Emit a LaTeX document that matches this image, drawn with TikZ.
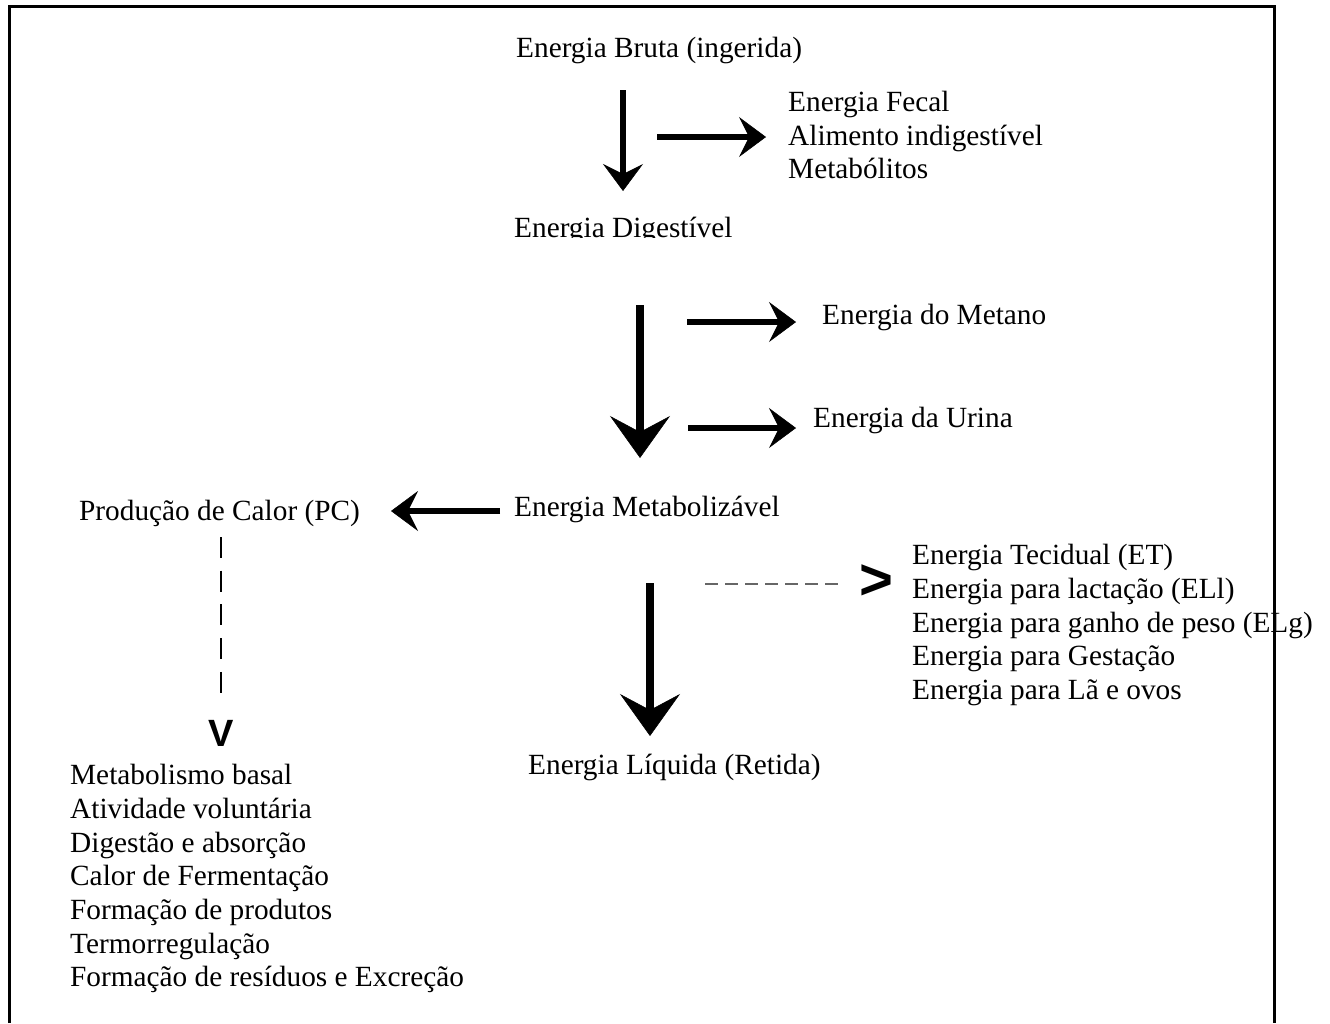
\documentclass[tikz,border=0pt]{standalone}
\usepackage{fontspec}
\setmainfont{Liberation Serif}
\newfontfamily\arialfam{Liberation Sans}
\usetikzlibrary{arrows.meta}
\begin{document}
\begin{tikzpicture}[x=1pt,y=-1pt,
  lbl/.style={anchor=base west, inner sep=0pt, font=\fontsize{29.3}{34}\selectfont},
  smallarrow/.style={line width=6pt, -{Stealth[length=27pt,width=40pt,inset=10pt,line width=0.5pt]}},
  bigarrow/.style={line width=8pt, -{Stealth[length=42pt,width=60pt,inset=16pt,line width=0.5pt]}},
  frameline/.style={line width=3pt},
  vdash/.style={line width=2.5pt, dash pattern=on 21pt off 12.7pt},
  hdash/.style={line width=2pt, draw=black!60, dash pattern=on 13pt off 7pt},
  glyph/.style={inner sep=0pt, font=\arialfam\bfseries\fontsize{38}{38}\selectfont}]
\useasboundingbox (0,0) rectangle (1330,1023);
\fill[white] (0,0) rectangle (1330,1023);
% frame
\coordinate (fbl) at (9,1023);
\coordinate (ftl) at (9,6);
\coordinate (ftr) at (1274.5,6);
\coordinate (fbr) at (1274.5,1023);
\draw[frameline] (fbl) -- (ftl) -- (ftr) -- (fbr);

% texts
\node[lbl] (eb) at (516,57) {Energia Bruta (ingerida)};
\node[lbl] (ef1) at (788,111) {Energia Fecal};
\node[lbl] (ef2) at (788,145) {Alimento indigestível};
\node[lbl] (ef3) at (788,178) {Metabólitos};
\begin{scope}
\clip (500,200) rectangle (760,237.5);
\node[lbl] (ed) at (514,237) {Energia Digestível};
\end{scope}
\node[lbl] (emet) at (822,324) {Energia do Metano};
\node[lbl] (eur) at (813,427) {Energia da Urina};
\node[lbl] (em) at (514,516) {Energia Metabolizável};
\node[lbl] (pc) at (79,520) {Produção de Calor (PC)};
\node[lbl] (et1) at (912,564) {Energia Tecidual (ET)};
\node[lbl] (et2) at (912,598) {Energia para lactação (ELl)};
\node[lbl] (et3) at (912,632) {Energia para ganho de peso (ELg)};
\node[lbl] (et4) at (912,665) {Energia para Gestação};
\node[lbl] (et5) at (912,699) {Energia para Lã e ovos};
\node[lbl] (el) at (528,774) {Energia Líquida (Retida)};
\node[lbl] (pc1) at (70,784) {Metabolismo basal};
\node[lbl] (pc2) at (70,818) {Atividade voluntária};
\node[lbl] (pc3) at (70,852) {Digestão e absorção};
\node[lbl] (pc4) at (70,885) {Calor de Fermentação};
\node[lbl] (pc5) at (70,919) {Formação de produtos};
\node[lbl] (pc6) at (70,953) {Termorregulação};
\node[lbl] (pc7) at (70,986) {Formação de resíduos e Excreção};

% arrow end points
\coordinate (a1s) at (623,90);   \coordinate (a1e) at (623,191);
\coordinate (a2s) at (657,137);  \coordinate (a2e) at (766,137);
\coordinate (a3s) at (640,305);  \coordinate (a3e) at (640,458);
\coordinate (a4s) at (687,322);  \coordinate (a4e) at (796,322);
\coordinate (a5s) at (688,428);  \coordinate (a5e) at (796,428);
\coordinate (a6s) at (500,511);  \coordinate (a6e) at (391,511);
\coordinate (a7s) at (650,583);  \coordinate (a7e) at (650,736);
\coordinate (d1s) at (221,537);  \coordinate (d1e) at (221,694);
\coordinate (d2s) at (705,584);  \coordinate (d2e) at (845,584);

\draw[smallarrow] (a1s) -- (a1e);
\draw[smallarrow] (a2s) -- (a2e);
\draw[bigarrow] (a3s) -- (a3e);
\draw[smallarrow] (a4s) -- (a4e);
\draw[smallarrow] (a5s) -- (a5e);
\draw[smallarrow] (a6s) -- (a6e);
\draw[bigarrow] (a7s) -- (a7e);
\draw[vdash] (d1s) -- (d1e);
\draw[hdash] (d2s) -- (d2e);
\node[glyph] (vtip) at (221,733) {V};
\node[glyph, font=\arialfam\bfseries\fontsize{58}{58}\selectfont] (gtip) at (876,582) {>};
\end{tikzpicture}
\end{document}
